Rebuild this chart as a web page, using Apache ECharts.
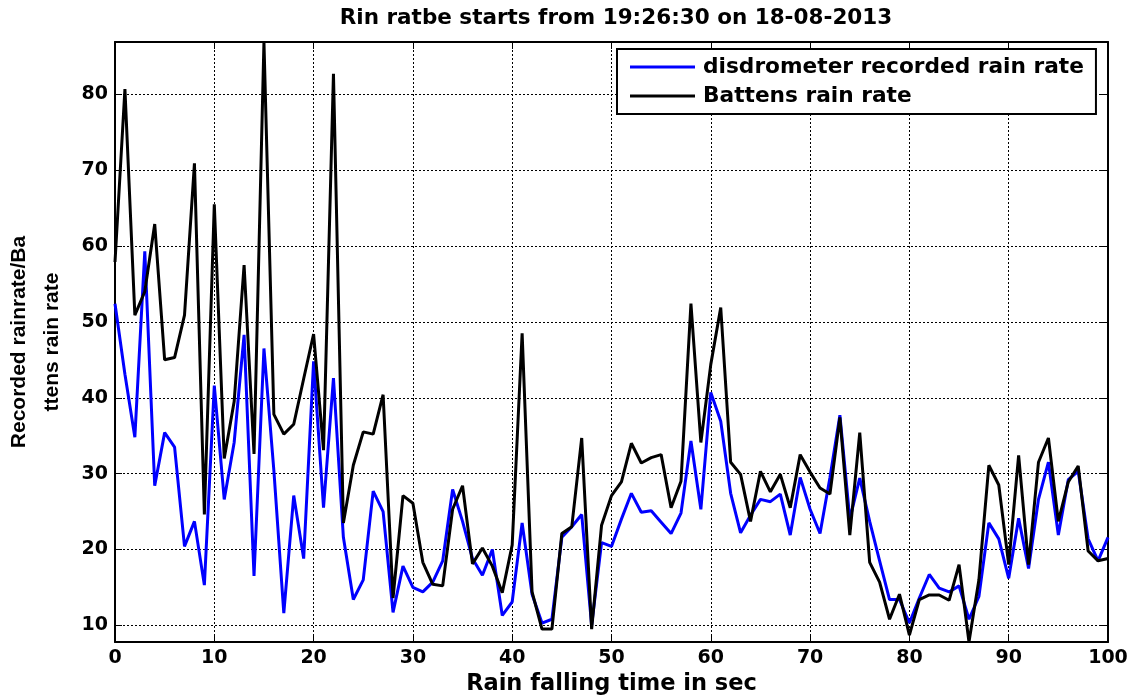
<!DOCTYPE html>
<html>
<head>
<meta charset="utf-8">
<script src="https://cdn.jsdelivr.net/npm/echarts@6/dist/echarts.min.js"></script>
<style>
html,body{margin:0;padding:0;background:#fff;}
#chart{width:1137px;height:695px;}
</style>
</head>
<body>
<div id="chart"></div>
<script>
const timeSec = [0,1,2,3,4,5,6,7,8,9,10,11,12,13,14,15,16,17,18,19,20,21,22,23,24,25,26,27,28,29,30,31,32,33,34,35,36,37,38,39,40,41,42,43,44,45,46,47,48,49,50,51,52,53,54,55,56,57,58,59,60,61,62,63,64,65,66,67,68,69,70,71,72,73,74,75,76,77,78,79,80,81,82,83,84,85,86,87,88,89,90,91,92,93,94,95,96,97,98,99,100];

const disdrometerRate = [52.4,43.1,34.8,59.3,28.4,35.4,33.5,20.4,23.7,15.3,41.6,26.6,34.1,48.3,16.5,46.5,30.4,11.6,27.1,18.8,44.8,25.5,42.6,21.6,13.4,16.0,27.7,25.0,11.7,17.8,15.0,14.4,15.7,18.5,27.9,23.7,18.8,16.6,20.0,11.3,13.1,23.5,14.1,10.3,10.8,21.6,23.0,24.6,10.0,20.9,20.4,24.0,27.4,24.9,25.1,23.6,22.1,24.8,34.3,25.3,40.7,36.9,27.4,22.2,24.5,26.6,26.3,27.3,21.9,29.5,25.3,22.1,29.5,37.7,24.0,29.4,23.7,18.5,13.4,13.4,10.3,13.6,16.7,14.9,14.4,15.2,10.8,13.8,23.5,21.4,16.2,24.1,17.5,26.6,31.5,21.9,29.2,30.3,21.4,18.5,21.6];

const battensRate = [57.9,80.7,50.9,54.0,62.9,45.0,45.3,50.9,70.9,24.6,65.5,32.0,39.5,57.5,32.6,86.9,37.8,35.2,36.5,42.5,48.4,33.1,82.7,23.5,31.1,35.5,35.2,40.4,13.6,27.1,26.1,18.3,15.4,15.2,25.3,28.4,18.1,20.2,17.8,14.3,20.6,48.5,14.4,9.5,9.5,22.1,23.0,34.7,9.5,23.2,27.1,28.9,34.0,31.4,32.1,32.5,25.5,29.0,52.4,34.1,44.4,51.9,31.5,29.9,23.7,30.3,27.6,29.9,25.5,32.5,30.2,28.1,27.3,37.4,21.9,35.4,18.3,15.7,10.8,14.1,8.7,13.4,14.0,14.0,13.3,18.0,7.8,16.0,31.1,28.5,18.0,32.4,18.0,31.5,34.7,23.7,28.9,31.0,19.8,18.5,18.8];

const yTicks = [10,20,30,40,50,60,70,80];
const xTicks = [0,10,20,30,40,50,60,70,80,90,100];

const seriesNames = ['disdrometer recorded rain rate', 'Battens rain rate'];
const titleText = 'Rin ratbe starts from 19:26:30 on 18-08-2013';
const xName = 'Rain falling time in sec';
const yName = 'Recorded rainrate/Ba\nttens rain rate';

const boldFont = '"DejaVu Sans", sans-serif';
const chart = echarts.init(document.getElementById('chart'), null, {renderer: 'canvas'});

const tickLabel = {color: '#000', fontFamily: boldFont, fontWeight: 'bold', fontSize: 19};

const option = {
  animation: false,
  backgroundColor: '#fff',
  title: {
    text: titleText,
    left: 611,
    top: 2,
    textAlign: 'center',
    textStyle: {color: '#000', fontFamily: boldFont, fontWeight: 'bold', fontSize: 21.5}
  },
  legend: {
    orient: 'vertical',
    left: 617,
    top: 49,
    padding: [6, 12, 6, 13],
    itemGap: 5,
    itemWidth: 65,
    itemHeight: 3,
    icon: 'rect',
    backgroundColor: '#fff',
    borderColor: '#000',
    borderWidth: 2,
    borderRadius: 0,
    data: seriesNames,
    textStyle: {color: '#000', fontFamily: boldFont, fontWeight: 'bold', fontSize: 21.7, lineHeight: 24, padding: [0,0,0,3]}
  },
  grid: {left: 115, right: 29, top: 42, bottom: 53, containLabel: false, outerBoundsMode: 'none'},
  xAxis: [{
    type: 'value', min: 0, max: 100, interval: 10, position: 'bottom',
    name: xName, nameLocation: 'middle', nameGap: 25,
    nameTextStyle: {color: '#000', fontFamily: boldFont, fontWeight: 'bold', fontSize: 22.5},
    axisLine: {show: true, onZero: false, lineStyle: {color: '#000', width: 2}},
    axisTick: {show: true, inside: true, length: 7, lineStyle: {color: '#000', width: 1}},
    axisLabel: Object.assign({margin: 7, customValues: xTicks}, tickLabel),
    splitLine: {show: true, lineStyle: {color: '#000', width: 1, type: [2, 2]}}
  }, {
    type: 'value', min: 0, max: 100, interval: 10, position: 'top',
    axisLine: {show: true, onZero: false, lineStyle: {color: '#000', width: 2}},
    axisTick: {show: true, inside: true, length: 7, lineStyle: {color: '#000', width: 1}},
    axisLabel: {show: false},
    splitLine: {show: false}
  }],
  yAxis: [{
    type: 'value', min: 7.8, max: 86.9, minInterval: 10, maxInterval: 10, position: 'left',
    name: yName, nameLocation: 'middle', nameGap: 46, nameRotate: 90,
    nameTextStyle: {color: '#000', fontFamily: '"Liberation Sans", Arial, sans-serif', fontWeight: 'bold', fontSize: 21, lineHeight: 33, align: 'center'},
    axisLine: {show: true, onZero: false, lineStyle: {color: '#000', width: 2}},
    axisTick: {show: true, inside: true, length: 7, customValues: yTicks, lineStyle: {color: '#000', width: 1}},
    axisLabel: Object.assign({margin: 7, customValues: yTicks}, tickLabel),
    splitLine: {show: true, lineStyle: {color: '#000', width: 1, type: [2, 2]}}
  }, {
    type: 'value', min: 7.8, max: 86.9, minInterval: 10, maxInterval: 10, position: 'right',
    axisLine: {show: true, onZero: false, lineStyle: {color: '#000', width: 2}},
    axisTick: {show: true, inside: true, length: 7, customValues: yTicks, lineStyle: {color: '#000', width: 1}},
    axisLabel: {show: false},
    splitLine: {show: false}
  }],
  series: [{
    name: seriesNames[0], type: 'line', xAxisIndex: 0, yAxisIndex: 0,
    symbol: 'none', lineStyle: {color: '#0000ff', width: 3}, itemStyle: {color: '#0000ff'},
    data: disdrometerRate.map((v, i) => [timeSec[i], v])
  }, {
    name: seriesNames[1], type: 'line', xAxisIndex: 0, yAxisIndex: 0,
    symbol: 'none', lineStyle: {color: '#000000', width: 3}, itemStyle: {color: '#000000'},
    data: battensRate.map((v, i) => [timeSec[i], v])
  }]
};
chart.setOption(option);
</script>
</body>
</html>
